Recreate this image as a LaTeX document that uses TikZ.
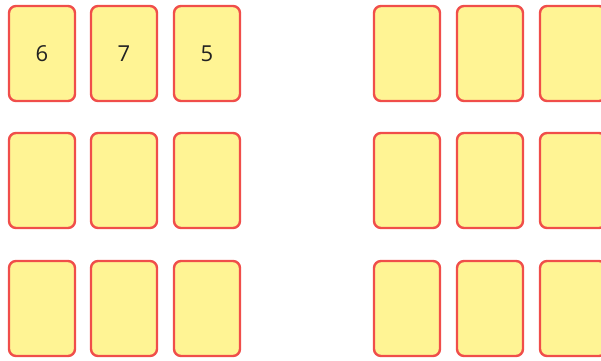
\documentclass[tikz,border=0pt]{standalone}
\usepackage{fontspec}
\setmainfont{Open Sans}
\usepackage{tikz}

\definecolor{cardfill}{HTML}{FFF494}
\definecolor{cardline}{HTML}{F04E4A}
\definecolor{digit}{HTML}{222222}

\begin{document}
\begin{tikzpicture}[x=1pt, y=-1pt,
    card/.style={rectangle, rounded corners=7pt, draw=cardline, fill=cardfill,
        line width=2.4pt, minimum width=66pt, minimum height=95pt, inner sep=0pt,
        text=digit, font=\fontsize{22}{26}\selectfont}]
    \useasboundingbox (0,0) rectangle (601,360);

    % left block, first row
    \node[card] (l11) at (42,53.5) {6};
    \node[card] (l12) at (124,53.5) {7};
    \node[card] (l13) at (207,53.5) {5};
    % left block, second row
    \node[card] (l21) at (42,180.5) {};
    \node[card] (l22) at (124,180.5) {};
    \node[card] (l23) at (207,180.5) {};
    % left block, third row
    \node[card] (l31) at (42,308.5) {};
    \node[card] (l32) at (124,308.5) {};
    \node[card] (l33) at (207,308.5) {};

    % right block, first row
    \node[card] (r11) at (407,53.5) {};
    \node[card] (r12) at (490,53.5) {};
    \node[card] (r13) at (573,53.5) {};
    % right block, second row
    \node[card] (r21) at (407,180.5) {};
    \node[card] (r22) at (490,180.5) {};
    \node[card] (r23) at (573,180.5) {};
    % right block, third row
    \node[card] (r31) at (407,308.5) {};
    \node[card] (r32) at (490,308.5) {};
    \node[card] (r33) at (573,308.5) {};
\end{tikzpicture}
\end{document}
